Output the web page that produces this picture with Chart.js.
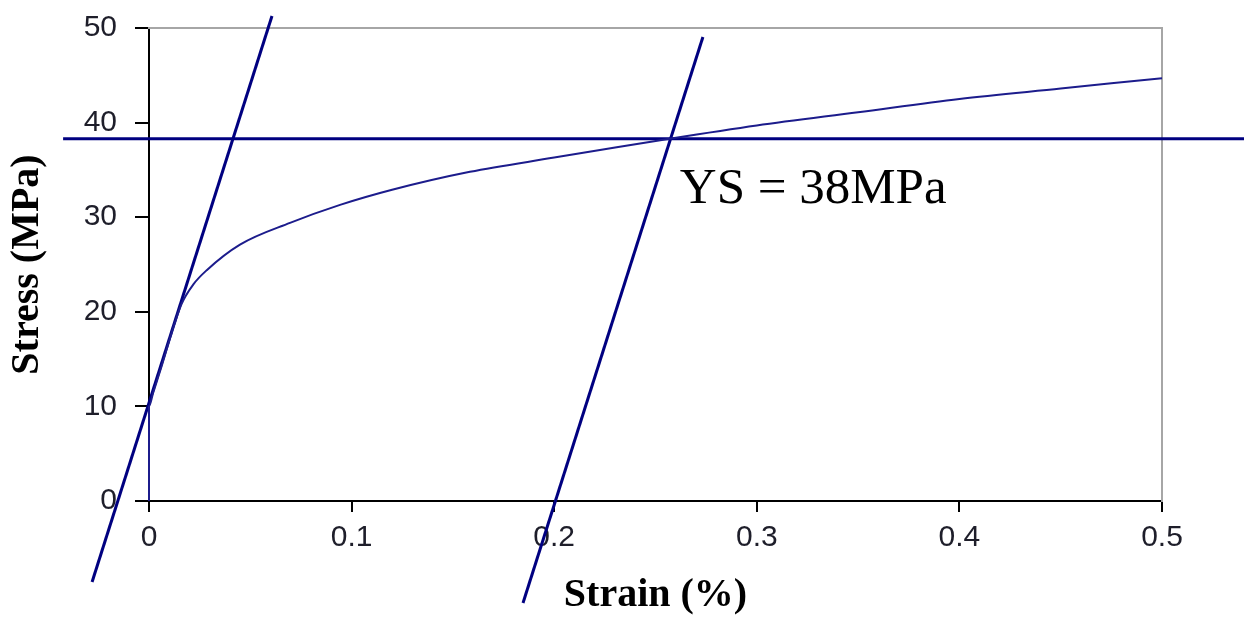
<!DOCTYPE html>
<html>
<head>
<meta charset="utf-8">
<script src="https://cdn.jsdelivr.net/npm/chart.js@4"></script>
<style>
  html, body { margin: 0; padding: 0; background: #fff; }
  #wrap { width: 1244px; height: 620px; }
</style>
</head>
<body>
<div id="wrap"><canvas id="myChart" width="1244" height="620"></canvas></div>
<script>
// datos
const strain = [0, 0, 0.002, 0.0063, 0.0112, 0.016, 0.0219, 0.0285, 0.0449, 0.0696, 0.0943, 0.12, 0.1584, 0.2, 0.2226, 0.257, 0.3, 0.35, 0.4, 0.45, 0.5];
const stress = [0, 10, 11.4, 14.3, 17.8, 20.8, 22.9, 24.4, 27.1, 29.4, 31.3, 32.9, 34.8, 36.3, 37.1, 38.3, 39.7, 41.1, 42.5, 43.6, 44.7];

// lineas de offset (pendiente elastica) y limite de fluencia
const offsetLine1X = [-0.0281, 0.0607];
const offsetLine1Y = [-8.56, 51.27];
const offsetLine2X = [0.1846, 0.2734];
const offsetLine2Y = [-10.78, 49.05];
const ysLineX = [-0.0424, 0.5405];
const ysLineY = [38.3, 38.3];

const xTickLabels = ['0', '0.1', '0.2', '0.3', '0.4', '0.5'];
const yTickLabels = ['0', '10', '20', '30', '40', '50'];

const ysText = 'YS = 38MPa';
const ysTextAt = { x: 0.262, y: 32.9 };

const toPoints = (xs, ys) => xs.map((x, i) => ({ x: x, y: ys[i] }));

const navy = '#000080';

// texto del YS sobre el grafico
const ysLabel = {
  id: 'ysLabel',
  afterDatasetsDraw(chart) {
    const ctx = chart.ctx;
    ctx.save();
    ctx.font = '51px "Liberation Serif", serif';
    ctx.fillStyle = '#000';
    ctx.textAlign = 'left';
    ctx.textBaseline = 'middle';
    ctx.fillText(ysText, chart.scales.x.getPixelForValue(ysTextAt.x), chart.scales.y.getPixelForValue(ysTextAt.y));
    ctx.restore();
  }
};

// tamaño fijo de los ejes, sin relleno automatico
const fixSize = (w, h) => (s) => {
  if (w !== null) s.width = w;
  if (h !== null) s.height = h;
  s.paddingTop = 0;
  s.paddingBottom = 0;
  s.paddingLeft = 0;
  s.paddingRight = 0;
};

const ctx = document.getElementById('myChart').getContext('2d');
const myChart = new Chart(ctx, {
  type: 'scatter',
  data: {
    datasets: [
      {
        data: toPoints(strain, stress),
        showLine: true,
        borderColor: '#1c1c8c',
        borderWidth: 2,
        pointRadius: 0,
        cubicInterpolationMode: 'monotone',
        clip: false
      },
      {
        data: toPoints(offsetLine1X, offsetLine1Y),
        showLine: true,
        borderColor: navy,
        borderWidth: 3,
        pointRadius: 0,
        clip: false
      },
      {
        data: toPoints(offsetLine2X, offsetLine2Y),
        showLine: true,
        borderColor: navy,
        borderWidth: 3,
        pointRadius: 0,
        clip: false
      },
      {
        data: toPoints(ysLineX, ysLineY),
        showLine: true,
        borderColor: navy,
        borderWidth: 3,
        pointRadius: 0,
        clip: false
      }
    ]
  },
  options: {
    responsive: false,
    animation: false,
    layout: { autoPadding: false, padding: { top: 28, right: 82, left: 0, bottom: 0 } },
    plugins: { legend: { display: false }, tooltip: { enabled: false } },
    scales: {
      x: {
        type: 'linear',
        position: 'bottom',
        min: 0,
        max: 0.5,
        afterFit: fixSize(null, 119),
        border: { color: '#000', width: 2 },
        grid: { drawOnChartArea: false, drawTicks: true, tickLength: 11, color: '#000', lineWidth: 2 },
        ticks: {
          stepSize: 0.1,
          padding: 8,
          color: '#1e1e2a',
          font: { family: '"Liberation Sans", Arial, sans-serif', size: 30 },
          maxRotation: 0,
          callback: (v, i) => xTickLabels[i]
        },
        title: {
          display: true,
          text: 'Strain (%)',
          color: '#000',
          padding: { top: 0, bottom: 0 },
          font: { family: '"Liberation Serif", "Times New Roman", serif', size: 40, weight: 'bold' }
        }
      },
      y: {
        type: 'linear',
        position: 'left',
        min: 0,
        max: 50,
        afterFit: fixSize(149, null),
        border: { color: '#000', width: 2 },
        grid: { drawOnChartArea: false, drawTicks: true, tickLength: 14, color: '#000', lineWidth: 2 },
        ticks: {
          stepSize: 10,
          padding: 18,
          color: '#1e1e2a',
          font: { family: '"Liberation Sans", Arial, sans-serif', size: 30 },
          callback: (v, i) => yTickLabels[i]
        },
        title: {
          display: true,
          text: 'Stress (MPa)',
          color: '#000',
          padding: { top: 4, bottom: 0 },
          font: { family: '"Liberation Serif", "Times New Roman", serif', size: 40, weight: 'bold' }
        }
      },
      xTop: {
        type: 'linear',
        position: 'top',
        min: 0,
        max: 0.5,
        afterFit: fixSize(null, 0),
        border: { color: '#a6a6a6', width: 2 },
        grid: { display: false },
        ticks: { display: false }
      },
      yRight: {
        type: 'linear',
        position: 'right',
        min: 0,
        max: 50,
        afterFit: fixSize(0, null),
        border: { color: '#a6a6a6', width: 2 },
        grid: { display: false },
        ticks: { display: false }
      }
    }
  },
  plugins: [ysLabel]
});
</script>
</body>
</html>
